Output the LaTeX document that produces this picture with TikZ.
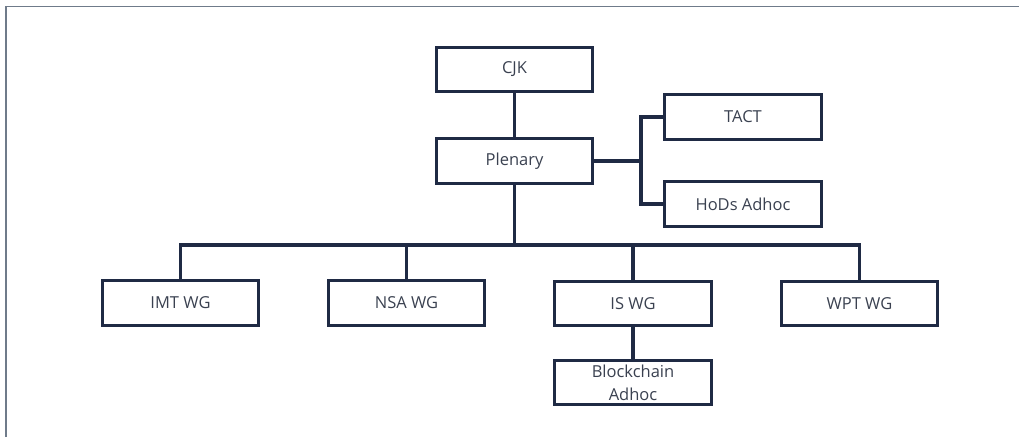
\documentclass[tikz,border=0pt]{standalone}
\usepackage{fontspec}
\setmainfont{Open Sans}
\definecolor{BoxLine}{HTML}{1F2A44}
\definecolor{BoxText}{HTML}{3A4150}
\definecolor{Frame}{HTML}{6F7B8A}

\begin{document}
\begin{tikzpicture}[x=1pt,y=-1pt,
    box/.style={draw=BoxLine, line width=2.8pt, minimum width=156.5pt,
      minimum height=44.5pt, inner sep=0pt, text=BoxText, align=center,
      font=\fontsize{16.5}{23}\selectfont},
    link/.style={draw=BoxLine, line width=3.2pt}]
        \useasboundingbox (0,0) rectangle (1019,437);
        \draw[Frame, line width=1.5pt] (6,437) -- (6,6.5) -- (1019,6.5);

        \node[box] (cjk) at (514.5,69.5) {CJK};
        \node[box] (plenary) at (514.5,161) {Plenary};
        \node[box] (tact) at (743,117) {TACT};
        \node[box] (hods) at (743,204) {HoDs Adhoc};
        \node[box] (imt) at (180.5,303) {IMT WG};
        \node[box] (nsa) at (406.5,303) {NSA WG};
        \node[box] (is) at (633,303.5) {IS WG};
        \node[box] (wpt) at (859.5,303.5) {WPT WG};
        \node[box] (block) at (633,382.5) {Blockchain\\Adhoc};

        \coordinate (fork) at (641,161);
        \coordinate (bus) at (514.5,245);

        \draw[link] (cjk) -- (plenary);
        \draw[link] (plenary.east) -- (fork);
        \draw[link] (tact.west) -| (fork) |- (hods.west);
        \draw[link] (plenary.south) -- (bus);
        \draw[link] (imt.north) |- (bus) -| (wpt.north);
        \draw[link] (nsa.north) -- (nsa.north |- bus);
        \draw[link] (is.north) -- (is.north |- bus);
        \draw[link] (is) -- (block);
      \end{tikzpicture}
\end{document}
